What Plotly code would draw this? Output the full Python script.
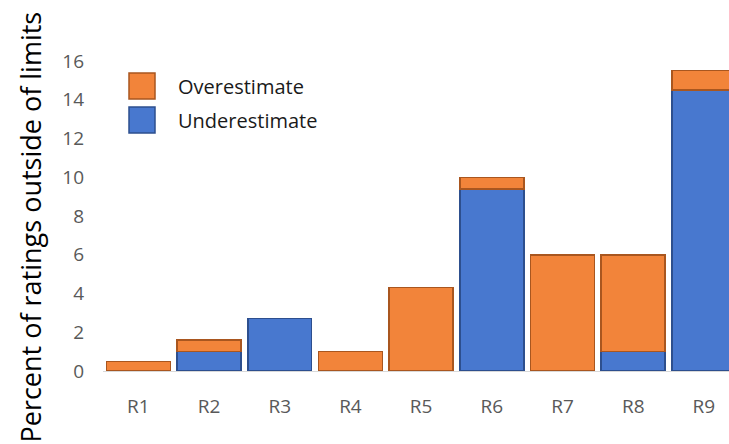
import plotly.graph_objects as go

# Rating categories and the share of ratings that fall outside the limits
categories = ["R1", "R2", "R3", "R4", "R5", "R6", "R7", "R8", "R9"]
underestimate = [0.0, 1.0, 2.7, 0.0, 0.0, 9.4, 0.0, 1.0, 14.5]
overestimate = [0.5, 0.6, 0.0, 1.0, 4.3, 0.6, 6.0, 5.0, 1.0]
y_ticks = [0, 2, 4, 6, 8, 10, 12, 14, 16]

ORANGE = "#F2843A"
ORANGE_EDGE = "#A9561F"
BLUE = "#4878CF"
BLUE_EDGE = "#2D4F8E"
FONT = "Open Sans"

W, H = 729, 444
ML, MR, MT, MB = 103, 0, 61, 73
PW, PH = W - ML - MR, H - MT - MB


def px_x(x):
    return (x - ML) / PW


def px_y(y):
    return (H - MB - y) / PH


def nonzero(values):
    # empty segments are left out so they draw no outline
    return [v if v > 0 else None for v in values]


fig = go.Figure()
fig.add_trace(go.Bar(
    x=categories, y=nonzero(underestimate), name="Underestimate",
    marker=dict(color=BLUE, line=dict(color=BLUE_EDGE, width=1.5)),
))
fig.add_trace(go.Bar(
    x=categories, y=nonzero(overestimate), name="Overestimate",
    marker=dict(color=ORANGE, line=dict(color=ORANGE_EDGE, width=1.5)),
))

# Legend drawn as swatches with labels
legend_items = [("Overestimate", ORANGE, ORANGE_EDGE, 73), ("Underestimate", BLUE, BLUE_EDGE, 107)]
shapes = []
annotations = []
for label, fill, edge, top in legend_items:
    shapes.append(dict(
        type="rect", xref="paper", yref="paper",
        x0=px_x(129), x1=px_x(155), y0=px_y(top + 26), y1=px_y(top),
        fillcolor=fill, line=dict(color=edge, width=1.5), layer="above",
    ))
    annotations.append(dict(
        text=label, xref="paper", yref="paper", x=px_x(176), y=px_y(top + 13),
        xanchor="left", yanchor="middle", showarrow=False,
        font=dict(family=FONT, size=20, color="#1A1A1A"),
    ))

annotations.append(dict(
    text="Percent of ratings outside of limits", textangle=-90,
    xref="paper", yref="paper", x=px_x(30), y=px_y(227.5),
    xanchor="center", yanchor="middle", showarrow=False,
    font=dict(family=FONT, size=27, color="#000000"),
))

fig.update_layout(
    width=W, height=H,
    margin=dict(l=ML, r=MR, t=MT, b=MB, pad=0),
    barmode="stack", bargap=0.095,
    plot_bgcolor="white", paper_bgcolor="white",
    showlegend=False,
    shapes=shapes, annotations=annotations,
    font=dict(family=FONT),
)
fig.update_xaxes(
    range=[-0.5, 8.355], showgrid=False, zeroline=False,
    showline=True, linecolor="#D9D9D9", linewidth=1,
    ticks="", ticklabelstandoff=18,
    tickfont=dict(family=FONT, size=19, color="#595959"),
)
fig.update_yaxes(
    range=[0, 16], tickvals=y_ticks, showgrid=False, zeroline=False,
    showline=False, ticks="", ticklabelstandoff=18,
    tickfont=dict(family=FONT, size=19, color="#595959"),
)

fig.write_html("out.html")
